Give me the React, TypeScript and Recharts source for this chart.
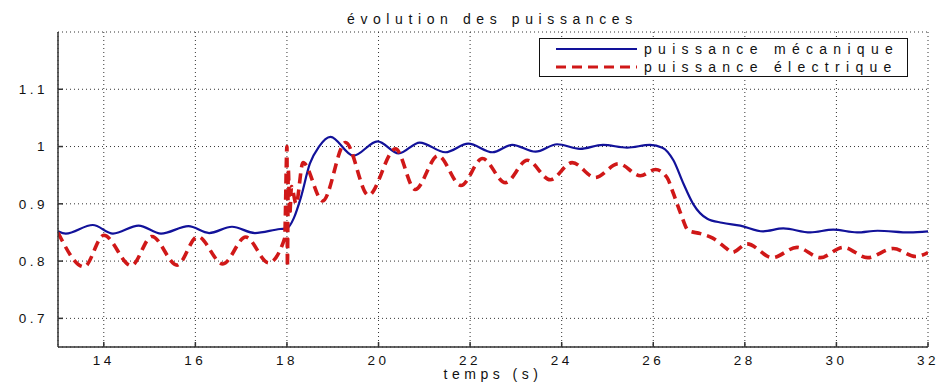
import React from 'react';
import {
  LineChart,
  Line,
  XAxis,
  YAxis,
  CartesianGrid,
} from 'recharts';

const chartTitle = 'évolution des puissances';
const xLabel = 'temps (s)';
const nameMeca = 'puissance mécanique';
const nameElec = 'puissance électrique';

const xTicks = [14, 16, 18, 20, 22, 24, 26, 28, 30, 32];
const yTicks = [0.7, 0.8, 0.9, 1, 1.1];

// puissance mécanique
const tempsMeca = [
  13, 13.17, 13.76, 14.2, 14.76, 15.25, 15.85, 16.3, 16.8, 17.3, 17.85, 18.0,
  18.15, 18.3, 18.5, 18.7, 18.95, 19.45, 19.98, 20.44, 20.9, 21.46, 21.96,
  22.49, 22.92, 23.43, 23.9, 24.4, 24.9, 25.43, 25.93, 26.2, 26.44, 26.66,
  26.87, 27.18, 27.5, 27.9, 28.4, 28.84, 29.43, 29.93, 30.45, 30.9, 31.6, 32,
];
const valeursMeca = [
  0.852, 0.848, 0.863, 0.848, 0.862, 0.848, 0.861, 0.849, 0.86, 0.849, 0.856,
  0.857, 0.875, 0.91, 0.97, 1.0, 1.017, 0.984, 1.009, 0.988, 1.007, 0.99,
  1.005, 0.99, 1.003, 0.991, 1.004, 0.996, 1.003, 0.998, 1.003, 0.998, 0.976,
  0.935, 0.9, 0.874, 0.867, 0.862, 0.852, 0.857, 0.85, 0.855, 0.85, 0.853,
  0.85, 0.852,
];

// puissance électrique
const tempsElec = [
  13, 13.57, 14.0, 14.6, 15.05, 15.6, 16.05, 16.6, 17.1, 17.6, 17.95, 18.0,
  18.01, 18.03, 18.06, 18.1, 18.2, 18.35, 18.78, 19.28, 19.78, 20.37, 20.8,
  21.3, 21.8, 22.27, 22.77, 23.25, 23.75, 24.23, 24.73, 25.24, 25.72, 26.05,
  26.3, 26.44, 26.6, 26.77, 27.03, 27.3, 27.6, 27.72, 28.05, 28.6, 29.14,
  29.65, 30.15, 30.68, 31.24, 31.73, 32,
];
const valeursElec = [
  0.85, 0.79, 0.845, 0.792, 0.843, 0.793, 0.843, 0.795, 0.842, 0.797, 0.84,
  1.0, 0.79, 0.96, 0.88, 0.93, 0.9, 0.972, 0.905, 1.007, 0.915, 0.996, 0.925,
  0.984, 0.932, 0.979, 0.937, 0.976, 0.942, 0.972, 0.946, 0.97, 0.949, 0.96,
  0.946, 0.918, 0.883, 0.853, 0.848, 0.84, 0.822, 0.815, 0.83, 0.806, 0.824,
  0.806, 0.824, 0.806, 0.822, 0.808, 0.815,
];

const dataMeca = tempsMeca.map((t, i) => ({ t, p: valeursMeca[i] }));
const dataElec = tempsElec.map((t, i) => ({ t, p: valeursElec[i] }));

const BLUE = '#12129a';
const RED = '#d01818';
const FONT = '"Liberation Sans", Arial, sans-serif';
const tickStyle = { fontSize: 13.5, fill: '#111', fontFamily: FONT, letterSpacing: 3.5 };

export default function App() {
  return (
    <div style={{ position: 'absolute', left: 0, top: 0, width: 944, height: 385, background: '#fff' }}>
      <div
        style={{
          position: 'absolute', left: 347, top: 11, whiteSpace: 'nowrap',
          fontFamily: FONT, fontSize: 14, letterSpacing: 5.6, color: '#111',
        }}
      >
        {chartTitle}
      </div>
      <LineChart
        width={944}
        height={385}
        margin={{ top: 32, right: 16, bottom: 0, left: 0 }}
      >
        <CartesianGrid stroke="#333" strokeDasharray="1 3" />
        <XAxis
          type="number"
          dataKey="t"
          domain={[13, 32]}
          ticks={xTicks}
          allowDataOverflow
          height={38}
          tickSize={-5}
          tickMargin={13}
          stroke="#333"
          strokeWidth={1.5}
          tick={tickStyle}
          label={{
            value: xLabel, position: 'insideBottom', offset: 6,
            style: { fontSize: 14, fontFamily: FONT, fill: '#111', letterSpacing: 4.5 },
          }}
        />
        <XAxis
          xAxisId="top"
          orientation="top"
          type="number"
          dataKey="t"
          domain={[13, 32]}
          ticks={xTicks}
          allowDataOverflow
          height={0}
          tickSize={-5}
          tick={false}
          stroke="#333"
          strokeWidth={1.5}
        />
        <YAxis
          type="number"
          domain={[0.65, 1.2]}
          ticks={yTicks}
          allowDataOverflow
          width={58}
          tickSize={-5}
          tickMargin={15}
          stroke="#333"
          strokeWidth={1.5}
          tick={tickStyle}
        />
        <YAxis
          yAxisId="right"
          orientation="right"
          type="number"
          domain={[0.65, 1.2]}
          ticks={yTicks}
          allowDataOverflow
          width={0}
          tickSize={-5}
          tick={false}
          stroke="#333"
          strokeWidth={1.5}
        />
        <Line
          data={dataMeca}
          dataKey="p"
          name={nameMeca}
          type="monotone"
          stroke={BLUE}
          strokeWidth={2.2}
          dot={false}
          isAnimationActive={false}
        />
        <Line
          data={dataElec}
          dataKey="p"
          name={nameElec}
          type="monotone"
          stroke={RED}
          strokeWidth={3.6}
          strokeDasharray="10 6"
          dot={false}
          isAnimationActive={false}
        />
      </LineChart>
      <div
        style={{
          position: 'absolute', left: 539, top: 38, width: 367, height: 37,
          border: '1px solid #111', background: '#fff', fontFamily: FONT,
          fontSize: 14, letterSpacing: 6.3, color: '#111',
        }}
      >
        {[
          { name: nameMeca, color: BLUE, dash: undefined, w: 2.2, top: 1 },
          { name: nameElec, color: RED, dash: '10 6', w: 3.2, top: 19 },
        ].map((item) => (
          <div key={item.name} style={{ position: 'absolute', left: 0, top: item.top, height: 18, display: 'flex', alignItems: 'center' }}>
            <svg width={104} height={18} style={{ display: 'block' }}>
              <line x1={16} x2={97} y1={9} y2={9} stroke={item.color} strokeWidth={item.w} strokeDasharray={item.dash} />
            </svg>
            <span style={{ whiteSpace: 'nowrap' }}>{item.name}</span>
          </div>
        ))}
      </div>
    </div>
  );
}
